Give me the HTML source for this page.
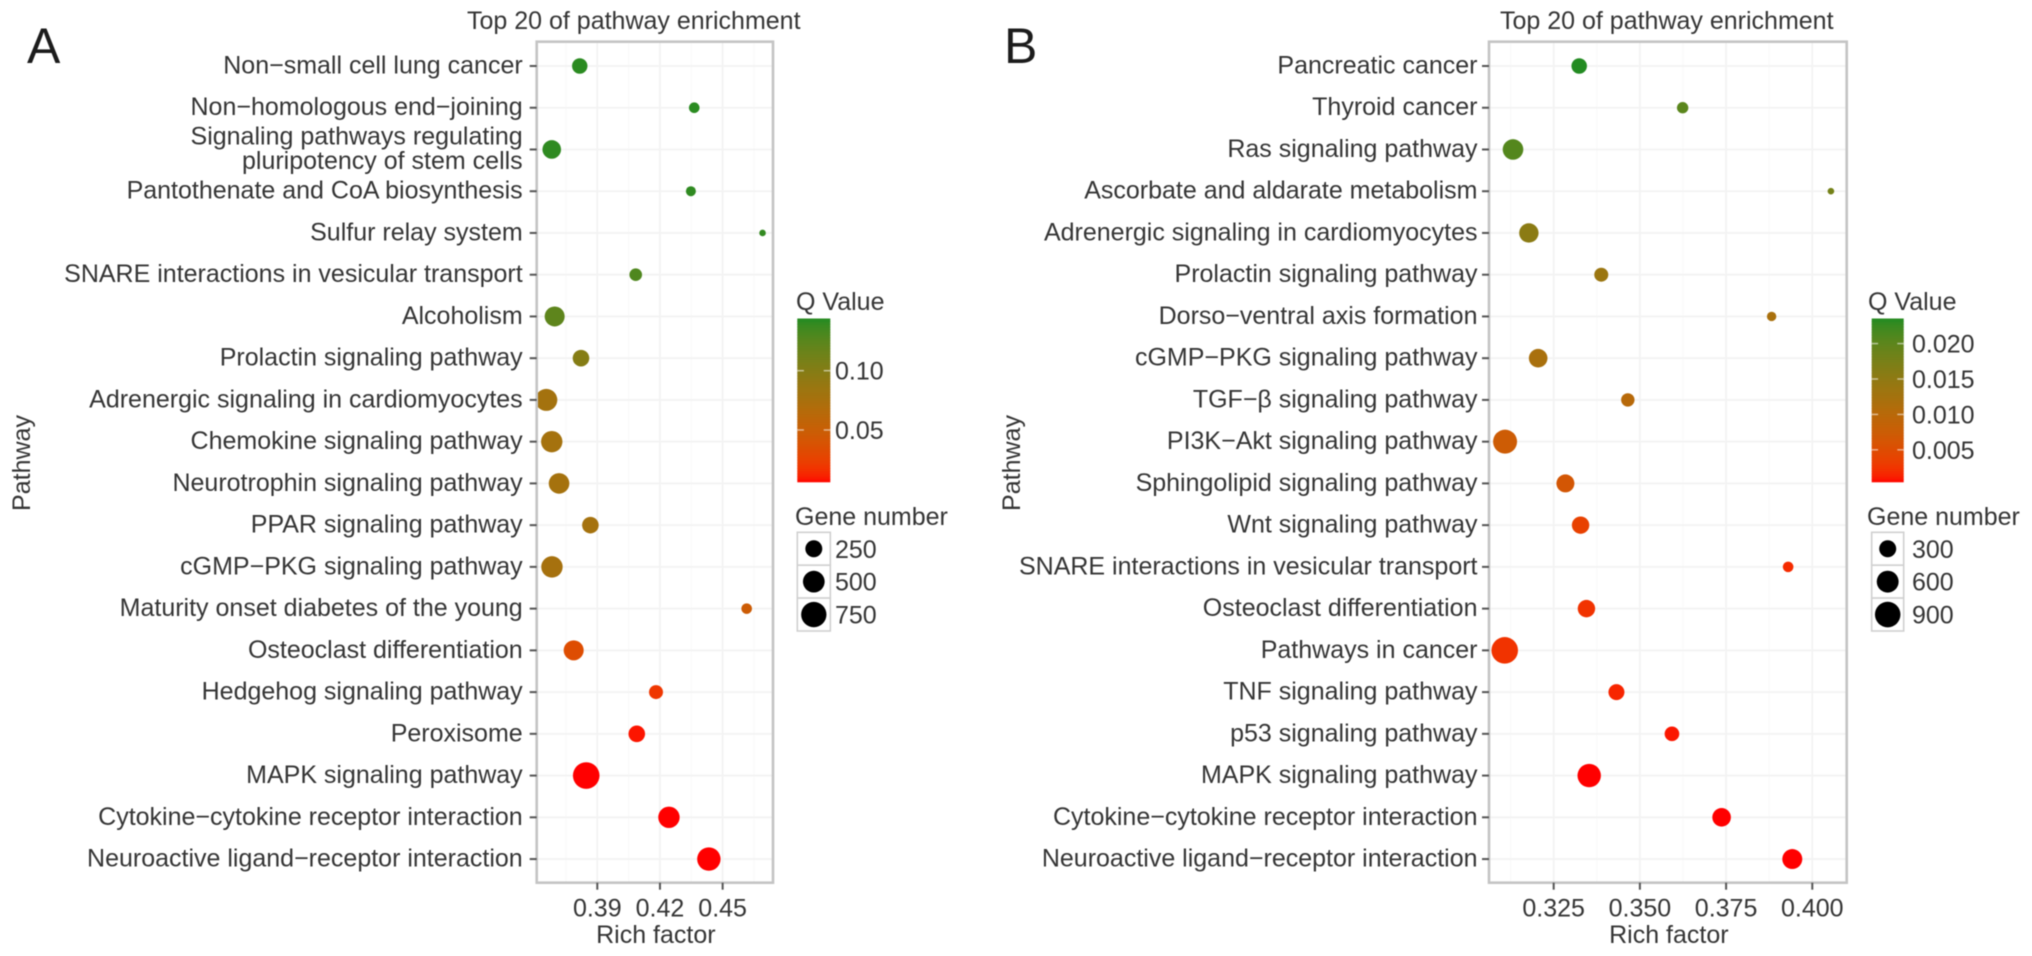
<!DOCTYPE html>
<html lang="en">
<head>
<meta charset="utf-8">
<title>Top 20 of pathway enrichment</title>
<style>
html,body{margin:0;padding:0;background:#fff;width:2032px;height:956px;overflow:hidden}
svg{display:block;filter:blur(0.55px);font-family:"Liberation Sans",Arial,sans-serif}
text{fill:#353535;font-size:25px}
</style>
</head>
<body>
<svg id="figure" xmlns="http://www.w3.org/2000/svg" width="2032" height="956" viewBox="0 0 2032 956">
  <rect x="0" y="0" width="2032" height="956" fill="#fff"/>
  <text x="27" y="63" style="font-size:50px;fill:#1c1c1c">A</text>
  <text x="1004" y="63" style="font-size:50px;fill:#1c1c1c">B</text>
  <g id="panel-a"></g>
  <g id="panel-b"></g>
</svg>
<script>
/* ---------- Panel A data ---------- */
var panelACategories = ["Non\u2212small cell lung cancer","Non\u2212homologous end\u2212joining","Signaling pathways regulating\npluripotency of stem cells","Pantothenate and CoA biosynthesis","Sulfur relay system","SNARE interactions in vesicular transport","Alcoholism","Prolactin signaling pathway","Adrenergic signaling in cardiomyocytes","Chemokine signaling pathway","Neurotrophin signaling pathway","PPAR signaling pathway","cGMP\u2212PKG signaling pathway","Maturity onset diabetes of the young","Osteoclast differentiation","Hedgehog signaling pathway","Peroxisome","MAPK signaling pathway","Cytokine\u2212cytokine receptor interaction","Neuroactive ligand\u2212receptor interaction"];
var panelARichFactor = [0.3816,0.4364,0.3682,0.4348,0.4691,0.4084,0.3696,0.3822,0.3656,0.3682,0.3717,0.3867,0.3683,0.4615,0.3787,0.4181,0.4089,0.3847,0.4243,0.4434];
var panelAQValue = [0.142,0.142,0.141,0.141,0.140,0.130,0.123,0.100,0.079,0.078,0.078,0.078,0.077,0.048,0.034,0.020,0.009,0.0064,0.0064,0.0064];
var panelAGeneNumber = [189,63,325,54,30,104,398,235,516,479,432,235,479,63,398,142,235,850,479,609];
var panelAXTicks = [0.39,0.42,0.45];
var panelAXTickLabels = ["0.39","0.42","0.45"];
var panelAXMinor = [0.375,0.405,0.435,0.465];
var panelAQTicks = [0.05,0.10];
var panelAQTickLabels = ["0.05","0.10"];
var panelASizeBreaks = [250,500,750];

/* ---------- Panel B data ---------- */
var panelBCategories = ["Pancreatic cancer","Thyroid cancer","Ras signaling pathway","Ascorbate and aldarate metabolism","Adrenergic signaling in cardiomyocytes","Prolactin signaling pathway","Dorso\u2212ventral axis formation","cGMP\u2212PKG signaling pathway","TGF\u2212\u03b2 signaling pathway","PI3K\u2212Akt signaling pathway","Sphingolipid signaling pathway","Wnt signaling pathway","SNARE interactions in vesicular transport","Osteoclast differentiation","Pathways in cancer","TNF signaling pathway","p53 signaling pathway","MAPK signaling pathway","Cytokine\u2212cytokine receptor interaction","Neuroactive ligand\u2212receptor interaction"];
var panelBRichFactor = [0.3324,0.3624,0.3132,0.4054,0.3178,0.3388,0.3882,0.3205,0.3465,0.3109,0.3284,0.3328,0.3930,0.3345,0.3108,0.3432,0.3593,0.3353,0.3737,0.3942];
var panelBQValue = [0.0235,0.0203,0.0208,0.0180,0.0155,0.0137,0.0120,0.0120,0.0102,0.0074,0.0065,0.0037,0.0019,0.0025,0.0025,0.0016,0.0010,0.0005,0.0005,0.0005];
var panelBGeneNumber = [230,95,510,40,433,171,59,386,151,767,352,320,78,320,1000,252,194,718,386,471];
var panelBXTicks = [0.325,0.350,0.375,0.400];
var panelBXTickLabels = ["0.325","0.350","0.375","0.400"];
var panelBXMinor = [0.3125,0.3375,0.3625,0.3875];
var panelBQTicks = [0.005,0.010,0.015,0.020];
var panelBQTickLabels = ["0.005","0.010","0.015","0.020"];
var panelBSizeBreaks = [300,600,900];

var SVGNS = "http://www.w3.org/2000/svg";
function make(parent, tag, attrs, txt) {
  var el = document.createElementNS(SVGNS, tag);
  for (var k in attrs) { el.setAttribute(k, attrs[k]); }
  if (txt !== undefined) { el.textContent = txt; }
  parent.appendChild(el);
  return el;
}

/* Lab-space colour interpolation, as used by ggplot2 gradients */
function toLab(c) {
  var f = c.map(function (v) { v /= 255; return v > 0.04045 ? Math.pow((v + 0.055) / 1.055, 2.4) : v / 12.92; });
  var X = (0.4124 * f[0] + 0.3576 * f[1] + 0.1805 * f[2]) / 0.95047;
  var Y = 0.2126 * f[0] + 0.7152 * f[1] + 0.0722 * f[2];
  var Z = (0.0193 * f[0] + 0.1192 * f[1] + 0.9505 * f[2]) / 1.08883;
  var g = function (t) { return t > 0.008856 ? Math.cbrt(t) : 7.787 * t + 16 / 116; };
  return [116 * g(Y) - 16, 500 * (g(X) - g(Y)), 200 * (g(Y) - g(Z))];
}
function fromLab(l) {
  var fy = (l[0] + 16) / 116, fx = fy + l[1] / 500, fz = fy - l[2] / 200;
  var h = function (t) { return t * t * t > 0.008856 ? t * t * t : (t - 16 / 116) / 7.787; };
  var X = h(fx) * 0.95047, Y = h(fy), Z = h(fz) * 1.08883;
  var r = 3.2406 * X - 1.5372 * Y - 0.4986 * Z;
  var g = -0.9689 * X + 1.8758 * Y + 0.0415 * Z;
  var b = 0.0557 * X - 0.2040 * Y + 1.0570 * Z;
  return "rgb(" + [r, g, b].map(function (v) {
    v = Math.max(0, Math.min(1, v));
    v = v > 0.0031308 ? 1.055 * Math.pow(v, 1 / 2.4) - 0.055 : 12.92 * v;
    return Math.round(v * 255);
  }).join(",") + ")";
}
var labLow = toLab([255, 0, 0]);
var labHigh = toLab([34, 139, 34]);
function gradientColor(t) {
  t = Math.max(0, Math.min(1, t));
  return fromLab([0, 1, 2].map(function (i) { return labLow[i] + (labHigh[i] - labLow[i]) * t; }));
}

function drawPanel(root, d) {
  var left = d.left, right = d.right, top = 41.7, bottom = 882.7;
  var firstRow = 66, rowStep = 41.74;
  function xScale(v) { return left + (v - d.xMin) / (d.xMax - d.xMin) * (right - left); }
  function yScale(i) { return firstRow + i * rowStep; }
  function qT(q) { return (q - d.qMin) / (d.qMax - d.qMin); }
  function rScale(n) { return 3.3 + 10 * Math.sqrt(Math.max(0, n - d.nMin) / (d.nMax - d.nMin)); }
  var barTop = 318.5, barBottom = 481.7;
  function qY(q) { return barBottom - qT(q) * (barBottom - barTop); }
  var el, i;

  /* panel + grid */
  el = make(root, "rect", {x: left, y: top, width: right - left, height: bottom - top, fill: "#fff"});
  
  
  d.minor.forEach(function (v) {
    var g = make(root, "line", {x1: xScale(v), x2: xScale(v), y1: top, y2: bottom, stroke: "#f8f8f8", "stroke-width": 1});
    
    
  });
  d.ticks.forEach(function (v) {
    var g = make(root, "line", {x1: xScale(v), x2: xScale(v), y1: top, y2: bottom, stroke: "#f3f3f3", "stroke-width": 1.8});
    
    
  });
  d.categories.forEach(function (c, idx) {
    var g = make(root, "line", {x1: left, x2: right, y1: yScale(idx), y2: yScale(idx), stroke: "#f3f3f3", "stroke-width": 1.8});
    
    
  });

  /* dots */
  d.categories.forEach(function (c, idx) {
    var dot = make(root, "circle", {cx: xScale(d.rich[idx]), cy: yScale(idx), r: rScale(d.genes[idx]), fill: gradientColor(qT(d.q[idx]))});
    
    
  });

  /* border */
  el = make(root, "rect", {x: left, y: top, width: right - left, height: bottom - top, fill: "none", stroke: "#c4c4c4", "stroke-width": 2.6});
  
  

  /* y axis */
  d.categories.forEach(function (c, idx) {
    var y = yScale(idx);
    var t = make(root, "line", {x1: left - 7, x2: left, y1: y, y2: y, stroke: "#555", "stroke-width": 2});
    
    
    var parts = c.split("\n");
    if (parts.length === 1) {
      var lab = make(root, "text", {x: left - d.labelGap, y: y + 7.5, "text-anchor": "end"}, c);
      
      
    } else {
      parts.forEach(function (p, k) {
        var lab2 = make(root, "text", {x: left - d.labelGap, y: y + 7.5 + (k - 0.5) * 24.5, "text-anchor": "end"}, p);
        
        
      });
    }
  });

  /* x axis */
  d.ticks.forEach(function (v, idx) {
    var x = xScale(v);
    var t = make(root, "line", {x1: x, x2: x, y1: bottom, y2: bottom + 7, stroke: "#555", "stroke-width": 2});
    
    
    var lab = make(root, "text", {x: x, y: 916.5, "text-anchor": "middle"}, d.tickLabels[idx]);
    
    
  });

  /* titles */
  el = make(root, "text", {x: d.titleX, y: 29}, "Top 20 of pathway enrichment");
  
  
  el = make(root, "text", {x: (left + right) / 2 + 1, y: 943, "text-anchor": "middle"}, "Rich factor");
  
  
  el = make(root, "text", {x: 0, y: 0, "text-anchor": "middle", transform: "translate(" + d.yTitleX + ",463) rotate(-90)"}, "Pathway");
  
  

  /* colour legend */
  el = make(root, "text", {x: d.legendTitleX, y: 310}, "Q Value");
  
  
  var bars = 60;
  for (i = 0; i < bars; i++) {
    var h = (barBottom - barTop) / bars;
    var seg = make(root, "rect", {x: d.barX, y: barBottom - (i + 1) * h, width: d.barW, height: h + 0.6, fill: gradientColor((i + 0.5) / bars)});
    
    
  }
  d.qTicks.forEach(function (q, idx) {
    var y = qY(q);
    var a = make(root, "line", {x1: d.barX, x2: d.barX + d.barW / 5, y1: y, y2: y, stroke: "#fff", "stroke-opacity": 0.55, "stroke-width": 1.5});
    
    
    var b = make(root, "line", {x1: d.barX + d.barW * 0.8, x2: d.barX + d.barW, y1: y, y2: y, stroke: "#fff", "stroke-opacity": 0.55, "stroke-width": 1.5});
    
    
    var lab = make(root, "text", {x: d.legendLabelX, y: y + 9}, d.qLabels[idx]);
    
    
  });

  /* size legend */
  el = make(root, "text", {x: d.geneTitleX, y: 525}, "Gene number");
  
  
  d.sizes.forEach(function (n, idx) {
    var ky = 532.3 + idx * 32.9;
    var box = make(root, "rect", {x: d.barX, y: ky, width: d.barW, height: 32.9, fill: "#fff", stroke: "#d0d0d0", "stroke-width": 1.6});
    
    
    var c = make(root, "circle", {cx: d.barX + d.barW / 2, cy: ky + 16.45, r: rScale(n), fill: "#000"});
    
    
    var lab = make(root, "text", {x: d.legendLabelX, y: ky + 16.45 + 9}, String(n));
    
    
  });
}

drawPanel(document.getElementById("panel-a"), {
  categories: panelACategories, rich: panelARichFactor, q: panelAQValue, genes: panelAGeneNumber,
  ticks: panelAXTicks, tickLabels: panelAXTickLabels, minor: panelAXMinor,
  qTicks: panelAQTicks, qLabels: panelAQTickLabels, sizes: panelASizeBreaks,
  left: 536.7, right: 773, xMin: 0.361, xMax: 0.4741,
  qMin: 0.0064, qMax: 0.144, nMin: 30, nMax: 850,
  titleX: 467, yTitleX: 30, legendTitleX: 796, geneTitleX: 795, labelGap: 14,
  barX: 797.3, barW: 33, legendLabelX: 835
});
drawPanel(document.getElementById("panel-b"), {
  categories: panelBCategories, rich: panelBRichFactor, q: panelBQValue, genes: panelBGeneNumber,
  ticks: panelBXTicks, tickLabels: panelBXTickLabels, minor: panelBXMinor,
  qTicks: panelBQTicks, qLabels: panelBQTickLabels, sizes: panelBSizeBreaks,
  left: 1489, right: 1846.7, xMin: 0.30624, xMax: 0.40998,
  qMin: 0.0005, qMax: 0.02354, nMin: 40, nMax: 1000,
  titleX: 1500, yTitleX: 1020, legendTitleX: 1868, geneTitleX: 1867, labelGap: 11.5,
  barX: 1871.7, barW: 32, legendLabelX: 1912
});
</script>
</body>
</html>
